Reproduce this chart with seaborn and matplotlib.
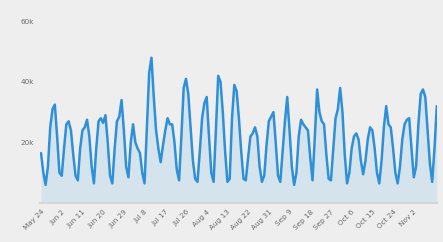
import pandas as pd
import matplotlib
matplotlib.use("Agg")
import matplotlib.pyplot as plt
import seaborn as sns

# daily values (thousands), starting May 24
start_date = "2018-05-24"
visits_k = [
    16.5, 10, 6, 12, 25, 31, 32.5, 22, 10, 9,
    18, 26, 27, 24, 16, 9, 7.5, 18, 24, 25,
    27.5, 22, 12, 6.5, 18, 27, 28, 26.5, 29, 20,
    9, 6.5, 18, 27, 28.5, 34, 24, 12, 8.5, 20,
    26, 20, 18, 16.5, 10, 6.5, 25, 43, 48, 35,
    24, 18, 13.5, 19, 24, 28, 26, 26, 20, 11,
    7.5, 22, 38, 41, 36, 25, 14, 8, 7, 17,
    28, 33, 35, 22, 10, 7, 24, 42, 40, 30,
    17, 7, 8, 28, 39, 37, 28, 17, 8, 7.5,
    15, 22, 23, 25, 22, 12, 7, 9, 19, 27,
    28.5, 30, 20, 9, 7, 17, 27, 35, 24, 12,
    6, 10, 22, 27.5, 26, 25, 24, 15, 7.5, 22,
    37.5, 30, 27, 26, 16, 8, 7.5, 18, 28, 31,
    38, 30, 16, 6.5, 10, 18, 22, 23, 21, 14,
    9.5, 14, 21, 25, 24, 18, 10, 6.5, 14, 25,
    32, 26, 25, 18, 10, 6.5, 12, 21, 26, 27.5,
    28, 18, 8.5, 12, 26, 36, 37.5, 35, 24, 13,
    7, 18, 32,
]
y_ticks = [20000, 40000, 60000]
y_tick_labels = ["20k", "40k", "60k"]

df = pd.DataFrame({
    "date": pd.date_range(start_date, periods=len(visits_k), freq="D"),
    "visits": [v * 1000 for v in visits_k],
})

sns.set_style("white")
bg = "#eeeeee"
line_color = "#2e90d8"

fig = plt.figure(figsize=(4.43, 2.42), dpi=100, facecolor=bg)
ax = fig.add_axes([0.09, 0.161, 0.896, 0.826], facecolor=bg)

sns.lineplot(data=df, x="date", y="visits", ax=ax, color=line_color, linewidth=1.8)
ax.fill_between(df["date"], df["visits"], 0, color="#a9d2ea", alpha=0.35, linewidth=0)

ax.set_xlim(df["date"].iloc[0] - pd.Timedelta(days=0.5), df["date"].iloc[-1])
ax.set_ylim(0, 66000)

tick_dates = pd.date_range(start_date, periods=19, freq="9D")
ax.set_xticks(tick_dates)
ax.set_xticklabels([f"{d.strftime('%b')} {d.day}" for d in tick_dates],
                   rotation=45, ha="right", rotation_mode="anchor",
                   fontsize=5.2, color="#6a6a6a")
ax.set_yticks(y_ticks)
ax.set_yticklabels(y_tick_labels, fontsize=5.2, color="#6a6a6a")
ax.tick_params(axis="both", length=0, pad=4)

ax.set_xlabel("")
ax.set_ylabel("")
for side in ["top", "right", "left"]:
    ax.spines[side].set_visible(False)
ax.spines["bottom"].set_color("#d6d6d6")
ax.spines["bottom"].set_linewidth(1.5)

fig.savefig("out.png", dpi=100, facecolor=bg)
